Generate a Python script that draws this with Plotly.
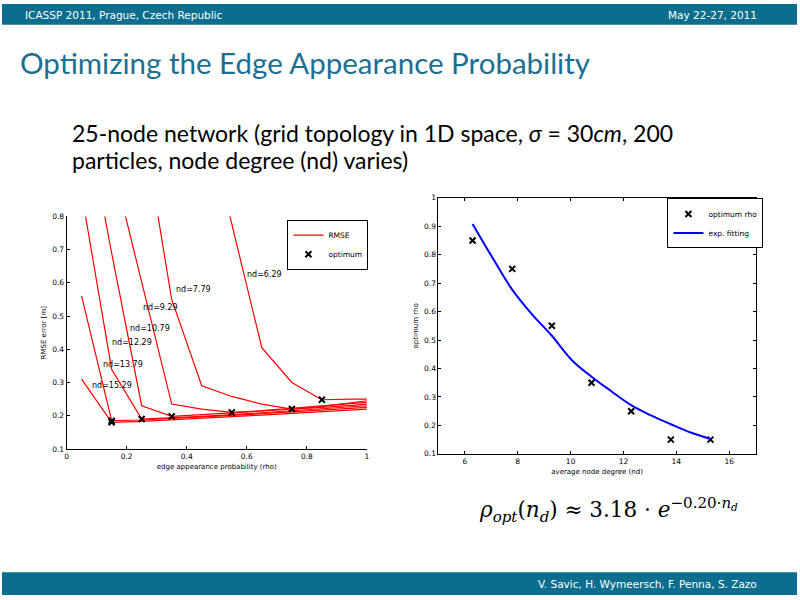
import plotly.graph_objects as go

# left chart: RMSE vs edge appearance probability, one curve per node degree
rho = [0.05, 0.15, 0.25, 0.35, 0.45, 0.55, 0.65, 0.75, 0.85, 0.95, 1.0]
nd_names = ["nd=6.29", "nd=7.79", "nd=9.29", "nd=10.79", "nd=12.29", "nd=13.79", "nd=15.29"]
rmse_629 = [None, None, None, None, 1.15, 0.78, 0.405, 0.30, 0.248, 0.25, 0.25]
rmse_779 = [None, None, 1.10, 0.55, 0.29, 0.258, 0.235, 0.22, 0.228, 0.24, 0.245]
rmse_929 = [None, 0.97, 0.60, 0.235, 0.22, 0.21, 0.215, 0.222, 0.23, 0.236, 0.24]
rmse_1079 = [1.17, 0.69, 0.23, 0.198, 0.203, 0.208, 0.213, 0.219, 0.225, 0.231, 0.235]
rmse_1229 = [0.87, 0.34, 0.19, 0.193, 0.198, 0.203, 0.209, 0.214, 0.22, 0.226, 0.23]
rmse_1379 = [0.56, 0.185, 0.187, 0.191, 0.196, 0.201, 0.206, 0.211, 0.216, 0.221, 0.225]
rmse_1529 = [0.31, 0.18, 0.183, 0.187, 0.192, 0.197, 0.202, 0.207, 0.212, 0.217, 0.22]
rmse_curves = [rmse_629, rmse_779, rmse_929, rmse_1079, rmse_1229, rmse_1379, rmse_1529]
opt_rho = [0.85, 0.75, 0.55, 0.35, 0.25, 0.15, 0.15]
opt_rmse = [0.248, 0.22, 0.21, 0.198, 0.19, 0.185, 0.18]
# where the nd=... labels sit (data coords of text left edge)
label_rho = [0.595, 0.358, 0.248, 0.204, 0.143, 0.116, 0.077]
label_rmse = [0.624, 0.58, 0.525, 0.464, 0.419, 0.355, 0.29]

# right chart: optimum rho vs average node degree
node_degree = [6.29, 7.79, 9.29, 10.79, 12.29, 13.79, 15.29]
opt_rho_nd = [0.85, 0.75, 0.55, 0.35, 0.25, 0.15, 0.15]
fit_nd = [6.29, 7.04, 7.79, 8.54, 9.29, 10.04, 10.79, 11.54, 12.29, 13.04, 13.79, 14.54, 15.29]
fit_rho = [0.908, 0.79, 0.677, 0.59, 0.515, 0.43, 0.371, 0.32, 0.271, 0.235, 0.204, 0.175, 0.152]

TEAL = "#0b6e8e"
SLIDE_FONT = "Lato"
BAR_FONT = "DejaVu Sans"
PLOT_FONT = "DejaVu Sans"

fig = go.Figure()

for name, curve in zip(nd_names, rmse_curves):
    fig.add_trace(go.Scatter(x=rho, y=curve, mode="lines", name="RMSE",
                             line=dict(color="#ff0000", width=1.2),
                             showlegend=(name == nd_names[0]),
                             legend="legend", xaxis="x", yaxis="y"))
fig.add_trace(go.Scatter(x=opt_rho, y=opt_rmse, mode="markers", name="optimum",
                         marker=dict(symbol="x-thin", size=6, color="black",
                                     line=dict(color="black", width=2)),
                         legend="legend", xaxis="x", yaxis="y"))

fig.add_trace(go.Scatter(x=node_degree, y=opt_rho_nd, mode="markers", name="optimum rho",
                         marker=dict(symbol="x-thin", size=6, color="black",
                                     line=dict(color="black", width=2)),
                         legend="legend2", xaxis="x2", yaxis="y2"))
fig.add_trace(go.Scatter(x=fit_nd, y=fit_rho, mode="lines", name="exp. fitting",
                         line=dict(color="#0000ff", width=2, shape="spline"),
                         legend="legend2", xaxis="x2", yaxis="y2"))

for name, lx, ly in zip(nd_names, label_rho, label_rmse):
    fig.add_annotation(x=lx, y=ly, xref="x", yref="y", text=name, showarrow=False,
                       xanchor="left", yanchor="middle",
                       font=dict(family=PLOT_FONT, size=8, color="black"))

axis_common = dict(showgrid=False, zeroline=False, ticks="inside", ticklen=3,
                   linecolor="black", linewidth=1, tickcolor="black",
                   tickfont=dict(family=PLOT_FONT, size=7.5, color="black"))
title_font = dict(family=PLOT_FONT, size=7, color="black")
legend_font = dict(family=PLOT_FONT, size=7.5, color="black")

fig.update_layout(
    width=800, height=600,
    margin=dict(l=0, r=0, t=0, b=0),
    paper_bgcolor="white", plot_bgcolor="white",
    xaxis=dict(domain=[0.08125, 0.459], range=[0, 1], tickvals=[0, 0.2, 0.4, 0.6, 0.8, 1],
               ticktext=["0", "0.2", "0.4", "0.6", "0.8", "1"], showline=True, mirror=False,
               title=dict(text="edge appearance probability (rho)", standoff=4, font=title_font),
               anchor="y", **axis_common),
    yaxis=dict(domain=[0.2472, 0.6405], range=[0.1, 0.8],
               tickvals=[0.1, 0.2, 0.3, 0.4, 0.5, 0.6, 0.7, 0.8], showline=True, mirror=False,
               title=dict(text="RMSE error [m]", standoff=4, font=title_font),
               anchor="x", **axis_common),
    xaxis2=dict(domain=[0.549, 0.948], range=[5, 17], tickvals=[6, 8, 10, 12, 14, 16],
                showline=True, mirror="ticks",
                title=dict(text="average node degree (nd)", standoff=4, font=title_font),
                anchor="y2", **axis_common),
    yaxis2=dict(domain=[0.2388, 0.6722], range=[0.1, 1],
                tickvals=[0.1, 0.2, 0.3, 0.4, 0.5, 0.6, 0.7, 0.8, 0.9, 1],
                ticktext=["0.1", "0.2", "0.3", "0.4", "0.5", "0.6", "0.7", "0.8", "0.9", "1"],
                showline=True, mirror="ticks",
                title=dict(text="optimum rho", standoff=4, font=title_font),
                anchor="x2", **axis_common),
    legend=dict(x=0.359, y=0.635, xanchor="left", yanchor="top",
                bordercolor="black", borderwidth=1, bgcolor="white",
                font=legend_font, tracegroupgap=0, itemwidth=30),
    legend2=dict(x=0.837, y=0.671, xanchor="left", yanchor="top",
                 bordercolor="black", borderwidth=1, bgcolor="white",
                 font=legend_font, tracegroupgap=0, itemwidth=30),
    showlegend=True,
)

# slide frame: header and footer bars
fig.add_shape(type="rect", xref="paper", yref="paper", x0=0, x1=1, y0=1 - 21 / 600, y1=1,
              fillcolor=TEAL, line=dict(width=0), layer="below")
fig.add_shape(type="rect", xref="paper", yref="paper", x0=0, x1=1, y0=0, y1=23 / 600,
              fillcolor=TEAL, line=dict(width=0), layer="below")

fig.add_annotation(x=21 / 800, y=1 - 11 / 600, xref="paper", yref="paper",
                   text="ICASSP 2011, Prague, Czech Republic", showarrow=False,
                   xanchor="left", yanchor="middle",
                   font=dict(family=BAR_FONT, size=10.5, color="white"))
fig.add_annotation(x=762 / 800, y=1 - 11 / 600, xref="paper", yref="paper",
                   text="May 22-27, 2011", showarrow=False,
                   xanchor="right", yanchor="middle",
                   font=dict(family=BAR_FONT, size=10.5, color="white"))
fig.add_annotation(x=762 / 800, y=11.5 / 600, xref="paper", yref="paper",
                   text="V. Savic, H. Wymeersch, F. Penna, S. Zazo", showarrow=False,
                   xanchor="right", yanchor="middle",
                   font=dict(family=BAR_FONT, size=10.5, color="white"))

fig.add_annotation(x=16 / 800, y=1 - 59 / 600, xref="paper", yref="paper",
                   text="Optimizing the Edge Appearance Probability", showarrow=False,
                   xanchor="left", yanchor="middle",
                   font=dict(family=SLIDE_FONT, size=29.5, color="#1a6f93"))
fig.add_annotation(x=68 / 800, y=1 - 131 / 600, xref="paper", yref="paper",
                   text="25-node network (grid topology in 1D space, <i>σ</i> = 30<i>cm</i>, 200",
                   showarrow=False, xanchor="left", yanchor="middle",
                   font=dict(family=SLIDE_FONT, size=23, color="black"))
fig.add_annotation(x=68 / 800, y=1 - 158 / 600, xref="paper", yref="paper",
                   text="particles, node degree (nd) varies)",
                   showarrow=False, xanchor="left", yanchor="middle",
                   font=dict(family=SLIDE_FONT, size=23, color="black"))

fig.add_annotation(x=478 / 800, y=1 - 514 / 600, xref="paper", yref="paper",
                   text="<i>ρ</i><sub><i>opt</i></sub>(<i>n</i><sub><i>d</i></sub>) ≈ 3.18 · <i>e</i>"
                        "<sup>−0.20·<i>n<sub>d</sub></i></sup>",
                   showarrow=False, xanchor="left", yanchor="middle",
                   font=dict(family="DejaVu Serif", size=21.5, color="black"))

# the page body has a default margin; drop it so the slide fills the window
fig.write_html("out.html", config={"displayModeBar": False},
               post_script="document.body.style.margin = '0';")
